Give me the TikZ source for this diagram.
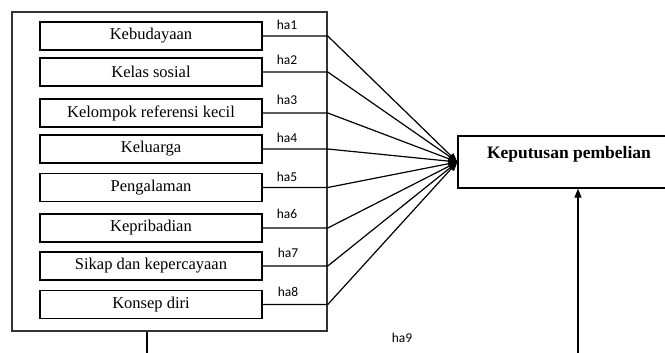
\documentclass[tikz,border=0pt]{standalone}
\usepackage{fontspec}
\setmainfont{Liberation Serif}
\newfontfamily\hafont{Carlito}
\usetikzlibrary{arrows.meta}
\begin{document}
\begin{tikzpicture}[x=1pt,y=-1pt,
  factor/.style={draw, line width=1.3pt, minimum width=222pt, minimum height=28pt, inner sep=0pt, font=\fontsize{16.5}{18}\selectfont},
  halab/.style={font=\hafont\fontsize{13.5}{15}\selectfont, inner sep=0pt},
  conn/.style={line width=1.2pt, -{Triangle[length=9pt,width=7pt]}},
  plain/.style={line width=1.3pt}
]
\useasboundingbox (0,0) rectangle (665,353);
\clip (0,0) rectangle (665,353);
\node[draw=black!80, line width=1.5pt, minimum width=315pt, minimum height=319pt, inner sep=0pt] (outer) at (169.5,171.5) {};
\node[factor] (b1) at (151,36) {Kebudayaan};
\node[factor] (b2) at (151,72) {Kelas sosial};
\node[factor] (b3) at (151,113) {Kelompok referensi kecil};
\node[factor] (b4) at (151,149) {Keluarga};
\node[factor] (b5) at (151,187.5) {Pengalaman};
\node[factor] (b6) at (151,228) {Kepribadian};
\node[factor] (b7) at (151,266) {Sikap dan kepercayaan};
\node[factor] (b8) at (151,304.5) {Konsep diri};
\node[draw, line width=1.3pt, minimum width=232pt, minimum height=52pt, inner sep=0pt] (kp) at (574,162) {};
\node[font=\bfseries\fontsize{17.5}{20}\selectfont, inner sep=0pt] (kpt) at (569,154) {Keputusan pembelian};
\node[halab] (h1) at (287,25) {ha1};
\node[halab] (h2) at (287,60) {ha2};
\node[halab] (h3) at (287,100) {ha3};
\node[halab] (h4) at (287,138) {ha4};
\node[halab] (h5) at (287,177) {ha5};
\node[halab] (h6) at (287,214) {ha6};
\node[halab] (h7) at (288,253) {ha7};
\node[halab] (h8) at (288,292) {ha8};
\node[halab] (h9) at (402,338) {ha9};
\foreach \b in {b1,b2,b3,b4,b5,b6,b7,b8}{
  \draw[conn] (\b.east) -- (\b.east -| outer.east) -- (kp.west);
}
\coordinate (bl) at (147,353);
\coordinate (br) at (578,353);
\draw[plain] (bl |- outer.south) -- (bl);
\draw[conn] (br) -- (br |- kp.south);
\end{tikzpicture}
\end{document}
